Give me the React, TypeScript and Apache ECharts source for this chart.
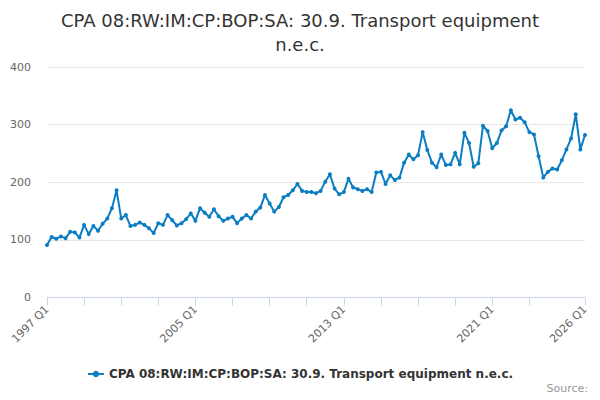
import React, { useEffect, useRef } from "react";
import * as echarts from "echarts";

const startYear = 1997;
const quarterCount = 117;
const categories: string[] = [];
for (let i = 0; i < quarterCount; i++) {
  categories.push(`${startYear + Math.floor(i / 4)} Q${(i % 4) + 1}`);
}

const values: number[] = [
  91, 105, 102, 106, 103, 114, 113, 104, 126, 110,
  124, 116, 128, 137, 155, 186, 137, 143, 124, 126,
  130, 126, 120, 112, 129, 126, 143, 134, 125, 129,
  136, 146, 133, 155, 147, 140, 153, 141, 133, 137,
  140, 129, 137, 143, 137, 149, 156, 178, 163, 149,
  157, 174, 178, 186, 197, 185, 183, 183, 181, 185,
  201, 214, 189, 179, 183, 206, 191, 188, 185, 188,
  183, 217, 218, 197, 212, 204, 208, 234, 248, 240,
  247, 287, 256, 234, 226, 248, 230, 231, 251, 231,
  286, 268, 227, 233, 298, 289, 259, 268, 290, 297,
  325, 309, 312, 304, 287, 283, 245, 208, 218, 224,
  222, 238, 257, 276, 318, 257, 282,
];

const seriesName = "CPA 08:RW:IM:CP:BOP:SA: 30.9. Transport equipment n.e.c.";
const titleText = "CPA 08:RW:IM:CP:BOP:SA: 30.9. Transport equipment\nn.e.c.";
const yTicks = { min: 0, max: 400, interval: 100 };

export default function App() {
  const ref = useRef<HTMLDivElement>(null);
  useEffect(() => {
    if (!ref.current) return;
    const chart = echarts.init(ref.current, null, { renderer: "svg" });
    const font = "DejaVu Sans, sans-serif";
    chart.setOption({
      animation: false,
      textStyle: { fontFamily: font },
      title: {
        text: titleText,
        left: "center",
        top: 3,
        textStyle: { fontSize: 18, fontWeight: "normal", color: "#333333", lineHeight: 24, fontFamily: font },
      },
      graphic: [
        {
          type: "text",
          right: 12,
          top: 383,
          style: { text: "Source:", fontSize: 11, fill: "#999999", fontFamily: font },
        },
      ],
      legend: {
        bottom: 15,
        left: "center",
        itemWidth: 16,
        itemHeight: 8,
        textStyle: { fontSize: 12, fontWeight: "bold", color: "#333333", fontFamily: font },
        data: [seriesName],
      },
      grid: { left: 47, right: 15, top: 67, bottom: 102.5 },
      xAxis: {
        type: "category",
        data: categories,
        boundaryGap: false,
        axisLine: { lineStyle: { color: "#ccd6eb" } },
        axisTick: {
          length: 8,
          lineStyle: { color: "#ccd6eb" },
          interval: (i: number) => (i % 8 === 0 && i <= 104) || i === 116,
        },
        axisLabel: {
          rotate: 45,
          fontSize: 11,
          color: "#666666",
          margin: 10,
          fontFamily: font,
          interval: (i: number) => i % 32 === 0 || i === 116,
        },
        splitLine: { show: false },
      },
      yAxis: {
        type: "value",
        min: yTicks.min,
        max: yTicks.max,
        interval: yTicks.interval,
        axisLine: { show: false },
        axisTick: { show: false },
        axisLabel: { fontSize: 11, color: "#666666", margin: 16, fontFamily: font },
        splitLine: { lineStyle: { color: "#e6e6e6" } },
      },
      series: [
        {
          name: seriesName,
          type: "line",
          data: values,
          symbol: "circle",
          symbolSize: 4,
          showSymbol: true,
          showAllSymbol: true,
          lineStyle: { color: "#0b7dc2", width: 2 },
          itemStyle: { color: "#0b7dc2" },
        },
      ],
    });
    return () => chart.dispose();
  }, []);
  return <div ref={ref} style={{ width: 600, height: 400, margin: -8 }} />;
}
